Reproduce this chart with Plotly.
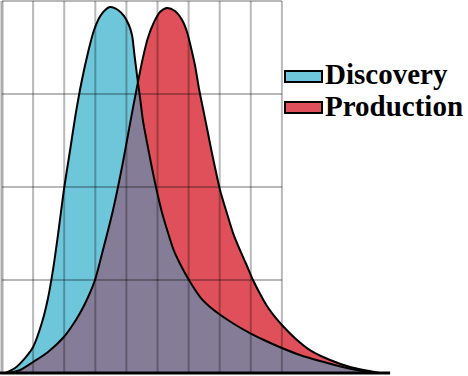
import plotly.graph_objects as go

# ---------------- data (x in grid columns, y in grid rows) ----------------
discovery_x = [0.10, 0.42, 0.74, 1.00, 1.29, 1.48, 1.64, 1.80, 1.99, 2.19, 2.38, 2.57,
               2.77, 2.96, 3.18, 3.47, 3.73, 3.92, 4.08, 4.18, 4.26, 4.37, 4.44,
               4.53, 4.66, 4.79, 4.95, 5.14, 5.34, 5.53, 5.76, 6.05, 6.37, 6.69,
               6.98, 7.46, 7.97, 8.49, 9.00, 9.58, 10.23, 11.09, 11.93]
discovery_y = [0.000, 0.054, 0.161, 0.280, 0.548, 0.806, 1.108, 1.484, 1.968, 2.398, 2.806, 3.151,
               3.452, 3.688, 3.849, 3.935, 3.903, 3.839, 3.742, 3.634, 3.419, 3.125, 2.957,
               2.720, 2.484, 2.258, 2.000, 1.731, 1.505, 1.312, 1.151, 0.978, 0.817, 0.710,
               0.634, 0.527, 0.430, 0.344, 0.269, 0.194, 0.129, 0.054, 0.000]

production_x = [0.19, 0.58, 1.00, 1.48, 1.99, 2.25, 2.51, 2.77, 2.99, 3.18, 3.38, 3.57,
                3.73, 3.89, 4.05, 4.21, 4.37, 4.53, 4.69, 4.89, 5.08, 5.31, 5.56,
                5.79, 5.95, 6.08, 6.21, 6.33, 6.46, 6.59, 6.75, 6.88, 7.01, 7.20,
                7.43, 7.65, 7.85, 8.07, 8.30, 8.52, 8.75, 9.00, 9.45, 9.90, 10.55,
                11.19, 12.15]
production_y = [0.000, 0.032, 0.118, 0.226, 0.387, 0.505, 0.645, 0.817, 1.000, 1.237, 1.495, 1.753,
                2.000, 2.269, 2.559, 2.849, 3.125, 3.387, 3.602, 3.774, 3.882, 3.925, 3.892,
                3.796, 3.667, 3.495, 3.301, 3.065, 2.849, 2.634, 2.366, 2.161, 1.968, 1.753,
                1.505, 1.323, 1.172, 1.000, 0.849, 0.720, 0.613, 0.516, 0.366, 0.247, 0.140,
                0.065, 0.000]

crossing_x = 4.37   # where the two curves meet (present in both series)

grid_x = [1, 2, 3, 4, 5, 6, 7, 8, 9]
grid_y = [1, 2, 3, 4]
grid_x_max = 9
baseline_end_x = 12.48

legend_labels = ["Discovery", "Production"]

# ---------------- styles ----------------
CYAN = "#6EC6DA"
RED = "#E0505A"
PURPLE = "#857D97"
GRID = "rgba(0,0,0,0.28)"

W, H = 468, 376
KX, KY = 31.1, 93.0       # pixels per unit
X0 = -2 / KX
Y0 = -3 / KY

# overlap region = area under both curves
ov_x = [x for x in production_x if x <= crossing_x] + [x for x in discovery_x if x > crossing_x]
ov_y = [y for x, y in zip(production_x, production_y) if x <= crossing_x] + \
       [y for x, y in zip(discovery_x, discovery_y) if x > crossing_x]

SMOOTH = 0.8
fig = go.Figure()

def fill_trace(xs, ys, color):
    return go.Scatter(x=xs, y=ys, mode="lines",
                      line=dict(width=0, shape="spline", smoothing=SMOOTH, color=color),
                      fill="tozeroy", fillcolor=color, hoverinfo="skip", showlegend=False)

fig.add_trace(fill_trace(discovery_x, discovery_y, CYAN))
fig.add_trace(fill_trace(production_x, production_y, RED))
fig.add_trace(fill_trace(ov_x, ov_y, PURPLE))

# grid lines (drawn over fills, semi-transparent)
gx, gy = [], []
for v in grid_x:
    gx += [v, v, None]
    gy += [0, grid_y[-1], None]
for h in grid_y:
    gx += [0, grid_x_max, None]
    gy += [h, h, None]
fig.add_trace(go.Scatter(x=gx, y=gy, mode="lines", line=dict(color=GRID, width=2),
                         hoverinfo="skip", showlegend=False))
# left axis
fig.add_trace(go.Scatter(x=[0, 0], y=[0, grid_y[-1]], mode="lines",
                         line=dict(color="rgba(0,0,0,0.33)", width=3),
                         hoverinfo="skip", showlegend=False))

# outlines
for xs, ys, name in [(discovery_x, discovery_y, legend_labels[0]),
                     (production_x, production_y, legend_labels[1])]:
    fig.add_trace(go.Scatter(x=xs, y=ys, mode="lines", name=name,
                             line=dict(color="black", width=2, shape="spline", smoothing=SMOOTH),
                             hoverinfo="skip", showlegend=False))

# bottom baseline
fig.add_shape(type="line", xref="x", yref="y", x0=X0, x1=baseline_end_x, y0=0, y1=0,
              line=dict(color="black", width=3), layer="above")

# manual legend
def px(xp):
    return xp / W
def py(yp):
    return 1 - yp / H

legend_rows = [(legend_labels[0], CYAN, 76.5), (legend_labels[1], RED, 107.5)]
for label, color, yc in legend_rows:
    fig.add_shape(type="rect", xref="paper", yref="paper",
                  x0=px(285), x1=px(322), y0=py(yc - 5.5), y1=py(yc + 5.5),
                  fillcolor=color, line=dict(color="black", width=2), layer="above")
    fig.add_annotation(xref="paper", yref="paper", x=px(323), y=py(yc - 2),
                       text="<b>%s</b>" % label, showarrow=False,
                       xanchor="left", yanchor="middle",
                       font=dict(family="Liberation Serif", size=29, color="black"))

fig.update_layout(
    width=W, height=H,
    margin=dict(l=0, r=0, t=0, b=0),
    paper_bgcolor="white", plot_bgcolor="white",
    xaxis=dict(range=[X0, X0 + W / KX], visible=False, fixedrange=True),
    yaxis=dict(range=[Y0, Y0 + H / KY], visible=False, fixedrange=True),
    showlegend=False,
)

fig.write_html("out.html", config={"displayModeBar": False},
               post_script="document.body.style.margin='0px';")
